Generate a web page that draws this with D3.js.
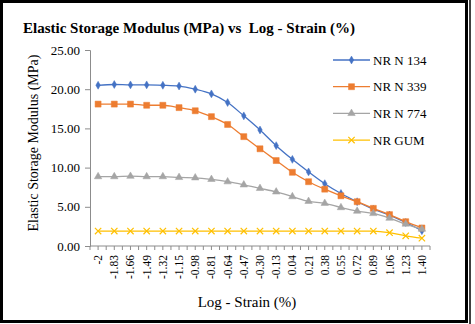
<!DOCTYPE html>
<html>
<head>
<meta charset="utf-8">
<script src="https://cdn.jsdelivr.net/npm/d3@7"></script>
<style>
  body { margin: 0; background: #fff; }
  svg text { font-family: "Liberation Serif", "Times New Roman", serif !important; }
</style>
</head>
<body>
<div id="chart"></div>
<script>
// Strain categories (x axis)
const strain = ["-2", "-1.83", "-1.66", "-1.49", "-1.32", "-1.15", "-0.98", "-0.81", "-0.64", "-0.47",
    "-0.30", "-0.13", "0.04", "0.21", "0.38", "0.55", "0.72", "0.89", "1.06", "1.23", "1.40"];

// Elastic storage modulus (MPa) per compound
const nrN134 = [20.5, 20.6, 20.55, 20.55, 20.5, 20.4, 20.0, 19.4, 18.3, 16.6, 14.8, 12.8, 11.05, 9.45, 7.95, 6.7, 5.65, 4.7, 3.95, 3.0, 1.95];
const nrN339 = [18.1, 18.1, 18.1, 17.95, 17.95, 17.65, 17.25, 16.5, 15.5, 13.95, 12.4, 10.9, 9.4, 8.2, 7.25, 6.4, 5.65, 4.8, 4.0, 3.1, 2.3];
const nrN774 = [8.85, 8.85, 8.9, 8.85, 8.85, 8.75, 8.7, 8.5, 8.2, 7.8, 7.35, 6.9, 6.3, 5.7, 5.45, 4.9, 4.45, 4.15, 3.55, 2.8, 2.15];
const nrGum = [1.9, 1.9, 1.9, 1.9, 1.9, 1.9, 1.9, 1.9, 1.9, 1.9, 1.9, 1.9, 1.9, 1.9, 1.9, 1.9, 1.9, 1.9, 1.7, 1.3, 1.0];

const yTicks = [0, 5, 10, 15, 20, 25];

const series = [
    { name: "NR N 134", values: nrN134, color: "#4472C4", symbol: d3.symbolDiamond, size: 18 },
    { name: "NR N 339", values: nrN339, color: "#ED7D31", symbol: d3.symbolSquare, size: 36 },
    { name: "NR N 774", values: nrN774, color: "#A5A5A5", symbol: d3.symbolTriangle, size: 24 },
    { name: "NR GUM", values: nrGum, color: "#FFC000", symbol: d3.symbolX, size: 28 }
];

const width = 475, height = 324;
const plot = { left: 90, right: 430, top: 50, bottom: 246 };

const svg = d3.select("#chart").append("svg")
    .attr("width", width)
    .attr("height", height);

// frame
svg.append("rect")
    .attr("x", 1.5).attr("y", 1.5)
    .attr("width", 465).attr("height", 320)
    .attr("fill", "none").attr("stroke", "#000").attr("stroke-width", 3);
svg.append("line")
    .attr("x1", 470).attr("x2", 470).attr("y1", 0).attr("y2", 324)
    .attr("stroke", "#000").attr("stroke-width", 1.5);

const x = d3.scaleBand().domain(strain).range([plot.left, plot.right]);
const y = d3.scaleLinear().domain([0, 25]).range([plot.bottom, plot.top]);
const xc = d => x(d) + x.bandwidth() / 2;

// title
svg.append("text")
    .attr("x", 23).attr("y", 33)
    .attr("font-size", "15px")
    .attr("font-weight", "bold")
    .style("white-space", "pre")
    .text("Elastic Storage Modulus (MPa) vs  Log - Strain (%)");

// y axis
const yAxis = svg.append("g")
    .attr("transform", `translate(${plot.left},0)`)
    .call(d3.axisLeft(y).tickValues(yTicks).tickFormat(d3.format(".2f")).tickSize(5).tickPadding(5));
yAxis.select(".domain").attr("stroke", "#8c8c8c");
yAxis.selectAll(".tick line").attr("stroke", "#8c8c8c");
yAxis.selectAll("text").attr("font-size", "13px").attr("fill", "#000");

// x axis line + ticks at band edges and centres
svg.append("line")
    .attr("x1", plot.left).attr("x2", plot.right)
    .attr("y1", plot.bottom).attr("y2", plot.bottom)
    .attr("stroke", "#8c8c8c");
const tickXs = [];
strain.forEach(s => { tickXs.push(x(s)); tickXs.push(xc(s)); });
tickXs.push(plot.right);
svg.selectAll(".xtick").data(tickXs).enter().append("line")
    .attr("class", "xtick")
    .attr("x1", d => d).attr("x2", d => d)
    .attr("y1", plot.bottom).attr("y2", plot.bottom + 4)
    .attr("stroke", "#8c8c8c");

svg.selectAll(".xlabel").data(strain).enter().append("text")
    .attr("class", "xlabel")
    .attr("transform", d => `translate(${xc(d) + 4},${plot.bottom + 9}) rotate(-90)`)
    .attr("text-anchor", "end")
    .attr("font-size", "11.5px")
    .text(d => d);

// axis titles
svg.append("text")
    .attr("x", 247).attr("y", 307)
    .attr("text-anchor", "middle")
    .attr("font-size", "15px")
    .text("Log - Strain (%)");

svg.append("text")
    .attr("transform", `translate(38,143) rotate(-90)`)
    .attr("text-anchor", "middle")
    .attr("font-size", "14px")
    .text("Elastic Storage Modulus (MPa)");

// lines and markers
const line = d3.line()
    .x((d, i) => xc(strain[i]))
    .y(d => y(d))
    .curve(d3.curveMonotoneX);

function marker(sel, s) {
    sel.attr("d", d3.symbol().type(s.symbol).size(s.size))
        .attr("fill", s.symbol === d3.symbolX ? "none" : s.color)
        .attr("stroke", s.color)
        .attr("stroke-width", s.symbol === d3.symbolX ? 1.2 : 0.5);
}

series.forEach(s => {
    svg.append("path")
        .attr("d", line(s.values))
        .attr("fill", "none")
        .attr("stroke", s.color)
        .attr("stroke-width", 1.3);
    svg.selectAll(null).data(s.values).enter().append("path")
        .attr("transform", (d, i) => `translate(${xc(strain[i])},${y(d)})`)
        .call(marker, s);
});

// legend
const legend = svg.append("g").attr("transform", "translate(333,60)");
series.forEach((s, i) => {
    const g = legend.append("g").attr("transform", `translate(0,${i * 26.7})`);
    g.append("line")
        .attr("x1", 0).attr("x2", 37)
        .attr("stroke", s.color).attr("stroke-width", 1.3);
    g.append("path")
        .attr("transform", "translate(18.5,0)")
        .call(marker, s);
    g.append("text")
        .attr("x", 40).attr("y", 4.5)
        .attr("font-size", "13px")
        .text(s.name);
});
</script>
</body>
</html>
